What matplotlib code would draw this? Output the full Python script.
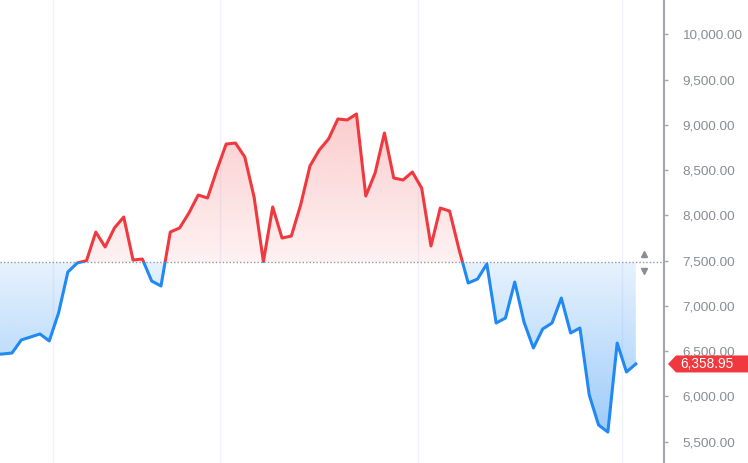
import numpy as np
import matplotlib
matplotlib.use("Agg")
import matplotlib.pyplot as plt
from matplotlib.path import Path
from matplotlib.patches import Polygon, Rectangle
from matplotlib.ticker import FuncFormatter

plt.rcParams['font.family'] = ['Liberation Sans', 'DejaVu Sans']

# price series, one value per bar (first bar sits just off the left edge)
prices = [6462, 6469, 6480, 6624, 6657, 6690, 6613, 6922, 7375, 7474, 7500,
          7816, 7651, 7861, 7982, 7507, 7518, 7275, 7220, 7816, 7861,
          8026, 8225, 8192, 8501, 8788, 8799, 8645, 8203, 7490, 8093,
          7750, 7772, 8115, 8545, 8722, 8844, 9065, 9054, 9120, 8214,
          8468, 8910, 8413, 8391, 8479, 8302, 7662, 8081, 8048, 7630,
          7253, 7297, 7463, 6811, 6866, 7264, 6820, 6535, 6745, 6811,
          7087, 6701, 6756, 6016, 5685, 5607, 6590, 6270, 6358.95]
baseline = 7480
last_price = 6358.95
y_ticks = [5500, 6000, 6500, 7000, 7500, 8000, 8500, 9000, 9500, 10000]
time_grid = [6.4, 24.35, 45.6, 67.5]

RED = '#f0393f'
BLUE = '#2189f3'
W, H = 748, 463

x = np.arange(len(prices))
y = np.array(prices)

fig = plt.figure(figsize=(W / 100, H / 100), dpi=100)
ax = fig.add_axes([0, 0, 664 / W, 1])
ax.set_xlim(0.71, 72.03)
ax.set_ylim(5265, 10379)

for g in time_grid:
    ax.axvline(g, color='#f0f3fa', lw=1, zorder=0)


def gradient_fill(where, color, a_near, a_far, y_far):
    coll = ax.fill_between(x, y, baseline, where=where, interpolate=True,
                           facecolor='none', edgecolor='none')
    paths = coll.get_paths()
    if not paths:
        return
    clip = Path.make_compound_path(*paths)
    rgb = matplotlib.colors.to_rgb(color)
    n = 256
    img = np.zeros((n, 1, 4))
    img[:, 0, :3] = rgb
    img[:, 0, 3] = np.linspace(a_far, a_near, n)
    lo, hi = sorted([baseline, y_far])
    if y_far < baseline:
        img = img[::-1]
    im = ax.imshow(img, extent=[x[0] - 1, x[-1] + 1, lo, hi], origin='upper',
                   aspect='auto', zorder=1, interpolation='bilinear')
    im.set_clip_path(clip, transform=ax.transData)


gradient_fill(y >= baseline, RED, 0.07, 0.40, 10379)
gradient_fill(y <= baseline, BLUE, 0.11, 0.50, 5265)
ax.set_xlim(0.71, 72.03)
ax.set_ylim(5265, 10379)

# line: red above baseline, blue below
for color, lo, hi in [(RED, baseline, 20000), (BLUE, 0, baseline)]:
    ln, = ax.plot(x, y, color=color, lw=2.2, solid_joinstyle='round', zorder=3)
    rect = Rectangle((-10, lo), 200, hi - lo, transform=ax.transData)
    ln.set_clip_path(rect)

ax.axhline(baseline, color='#9598a1', lw=1, ls=(0, (1, 1.5)), zorder=2)

# small up/down arrows at the baseline handle
ax.plot([69.85], [baseline + 90], marker='^', color='#8a8d96', ms=5, zorder=4, clip_on=False)
ax.plot([69.85], [baseline - 90], marker='v', color='#8a8d96', ms=5, zorder=4, clip_on=False)

for s in ['left', 'top', 'bottom']:
    ax.spines[s].set_visible(False)
ax.spines['right'].set_color('#a3a6af')
ax.spines['right'].set_linewidth(1.5)
ax.set_xticks([])
ax.yaxis.tick_right()
ax.set_yticks(y_ticks)
ax.yaxis.set_major_formatter(FuncFormatter(lambda v, p: f'{v:,.2f}'))
ax.tick_params(axis='y', length=3, width=1, color='#a3a6af', pad=10,
               labelsize=9.7, labelcolor='#8a8d96')

# last price label
ly = ax.transData.transform((0, last_price))[1]
yc = ly / H
hh = 8.5 / H
pts = [(668 / W, yc), (676 / W, yc + hh), (1, yc + hh), (1, yc - hh), (676 / W, yc - hh)]
fig.patches.append(Polygon(pts, closed=True, transform=fig.transFigure,
                           facecolor=RED, edgecolor='none', zorder=5))
fig.text(680 / W, yc, f'{last_price:,.2f}', color='white', fontsize=9.8,
         va='center', ha='left', zorder=6)

fig.savefig('out.png', dpi=100)
